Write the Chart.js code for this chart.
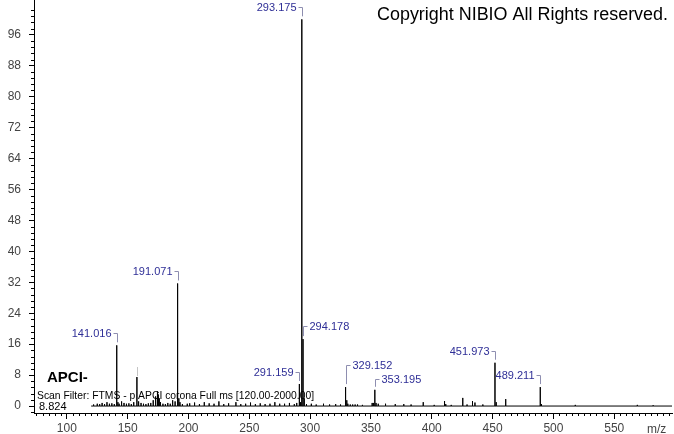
<!DOCTYPE html>
<html>
<head>
<meta charset="utf-8">
<script src="https://cdn.jsdelivr.net/npm/chart.js@4/dist/chart.umd.min.js"></script>
<style>
html,body{margin:0;padding:0;background:#fff;}
#wrap{width:674px;height:434px;position:relative;}
</style>
</head>
<body>
<div id="wrap"><canvas id="c" width="674" height="434"></canvas></div>
<script>
// ---- data ----
const peakMz = [122.0,125.0,127.0,129.0,131.0,133.0,135.0,137.0,139.0,141.016,142.0,143.0,145.0,147.0,149.0,151.0,153.0,155.0,157.6,159.0,161.0,163.0,165.0,167.0,169.0,171.0,173.0,174.5,175.2,176.0,177.0,179.0,181.0,183.0,185.0,187.0,189.0,191.071,192.07,193.0,195.0,199.0,201.0,205.0,209.0,213.0,217.0,221.0,225.0,229.0,233.0,239.0,243.0,247.0,251.0,255.0,259.0,263.0,267.0,271.0,275.0,279.0,283.0,287.0,289.0,291.159,292.2,293.175,294.178,295.18,297.0,301.0,305.0,311.0,316.0,321.0,325.0,329.152,330.155,331.0,333.0,335.0,337.0,339.0,343.0,351.0,352.0,353.195,354.2,356.0,362.0,370.0,377.0,383.0,393.0,402.0,410.5,411.5,416.0,425.5,429.0,433.5,435.5,442.0,451.973,452.98,460.8,489.211,490.21,518.0,569.0,582.0];
const peakIntensity = [0.4,0.6,0.5,0.8,0.5,1.0,0.6,0.7,0.5,15.7,1.0,0.6,1.2,0.8,0.6,0.7,0.5,1.0,7.5,1.2,0.8,0.6,0.5,0.7,0.8,1.5,2.5,3.8,3.0,2.0,1.0,0.6,0.5,0.8,0.6,1.5,1.2,31.7,2.0,1.0,0.5,0.6,0.7,0.9,0.5,1.0,0.7,0.6,1.2,0.5,0.7,1.0,0.5,0.6,0.9,0.5,0.7,0.5,0.6,1.0,0.6,0.6,0.8,0.5,0.8,5.7,1.0,100,17.3,2.0,0.5,0.6,0.4,0.6,0.4,0.5,0.4,4.9,1.5,0.6,0.4,0.4,0.4,0.4,0.3,0.8,0.8,4.2,0.8,0.6,0.6,0.5,0.5,0.4,1.0,0.3,1.3,0.5,0.3,2.1,0.4,1.3,0.9,0.4,11.2,1.0,1.8,4.9,0.5,0.3,0.3,0.2];
const labeledMz = [141.016,157.6,191.071,291.159,293.175,294.178,329.152,353.195,451.973,489.211];
const labelTexts = ["141.016","","191.071","291.159","293.175","294.178","329.152","353.195","451.973","489.211"];
const yTickValues = [0,8,16,24,32,40,48,56,64,72,80,88,96];
const xTickValues = [100,150,200,250,300,350,400,450,500,550];
const scanStart = 120, scanEnd = 2000;

// label placement style (side of text, extra lift in px)
const labelStyle = {
  "294.178": {side:"R", lift:13},
  "329.152": {side:"R", lift:22},
  "353.195": {side:"R", lift:11}
};

// build stick spectrum from arrays
const spectrum = [{x:scanStart,y:0}];
peakMz.forEach((m,i)=>{
  spectrum.push({x:m,y:0},{x:m,y:peakIntensity[i]},{x:m,y:0});
});
spectrum.push({x:scanEnd,y:0});

function noPad(s){ s.paddingTop=0; s.paddingBottom=0; s.paddingLeft=0; s.paddingRight=0; }

const annot = {
  id:'annot',
  afterDraw(chart){
    const ctx = chart.ctx, xs = chart.scales.x, ys = chart.scales.y, ca = chart.chartArea;
    ctx.save();
    // minor ticks
    ctx.strokeStyle = '#000'; ctx.lineWidth = 1;
    ctx.beginPath();
    for(let v=75; v<=xs.max; v+=5){
      if(v%50===0) continue;
      const px = Math.round(xs.getPixelForValue(v))+0.5;
      ctx.moveTo(px, ca.bottom); ctx.lineTo(px, ca.bottom+3);
    }
    for(let k=-1; k<=65; k++){
      const v = k*1.6;
      if(v>ys.max) break;
      if(k%5===0) continue;
      const py = Math.round(ys.getPixelForValue(v))+0.5;
      ctx.moveTo(ca.left-3, py); ctx.lineTo(ca.left, py);
    }
    ctx.stroke();

    // peak labels
    ctx.font = '11px "Liberation Sans", Arial, sans-serif';
    ctx.textBaseline = 'middle';
    labeledMz.forEach((m,i)=>{
      const idx = peakMz.indexOf(m);
      const h = peakIntensity[idx];
      const px = Math.round(xs.getPixelForValue(m))+0.5;
      const top = ys.getPixelForValue(h);
      const txt = labelTexts[i];
      const st = labelStyle[txt] || {side:"L", lift:12};
      const ty = Math.round(top - st.lift)+0.5;
      if(txt===""){
        ctx.strokeStyle = '#c4c4c4';
        ctx.beginPath(); ctx.moveTo(px, top-10); ctx.lineTo(px, top-1); ctx.stroke();
        return;
      }
      ctx.strokeStyle = '#8e8eb0';
      ctx.beginPath();
      if(st.side==="L"){
        ctx.moveTo(px-4, ty); ctx.lineTo(px, ty); ctx.lineTo(px, top-3);
        ctx.stroke();
        ctx.fillStyle = '#2e2e96'; ctx.textAlign = 'right';
        ctx.fillText(txt, px-6, ty);
      } else {
        ctx.moveTo(px+4, ty); ctx.lineTo(px, ty); ctx.lineTo(px, top-3);
        ctx.stroke();
        ctx.fillStyle = '#2e2e96'; ctx.textAlign = 'left';
        ctx.fillText(txt, px+6, ty);
      }
    });

    // texts
    ctx.fillStyle = '#000'; ctx.textAlign = 'left'; ctx.textBaseline = 'middle';
    ctx.font = '18px "Liberation Sans", Arial, sans-serif';
    ctx.fillText('Copyright NIBIO All Rights reserved.', 377, 15, 291);
    ctx.font = 'bold 15px "Liberation Sans", Arial, sans-serif';
    ctx.fillText('APCI-', 47, 378);
    ctx.font = '11px "Liberation Sans", Arial, sans-serif';
    ctx.fillText('Scan Filter: FTMS - p APCI corona Full ms [120.00-2000.00]', 37, 396, 277);
    ctx.fillText('8.824', 39, 407);
    ctx.fillStyle = '#444';
    ctx.font = '12px "Liberation Sans", Arial, sans-serif';
    ctx.fillText('m/z', 647, 430);
    ctx.restore();
  }
};

new Chart(document.getElementById('c'), {
  type:'line',
  data:{datasets:[{data:spectrum, borderColor:'#000', borderWidth:1, pointRadius:0, tension:0, fill:false}]},
  options:{
    responsive:false, animation:false, devicePixelRatio:1,
    layout:{padding:{top:0,right:2,left:0,bottom:0}},
    plugins:{legend:{display:false}, tooltip:{enabled:false}},
    scales:{
      x:{type:'linear', min:73, max:597.5,
        afterFit(s){s.height=21; noPad(s);},
        afterBuildTicks(s){s.ticks = xTickValues.map(v=>({value:v}));},
        border:{display:true,color:'#000',width:1},
        grid:{drawOnChartArea:false, tickLength:6, color:'#000'},
        ticks:{color:'#444', font:{family:'"Liberation Sans", Arial, sans-serif', size:12}, padding:2, maxRotation:0, autoSkip:false}
      },
      y:{type:'linear', min:-1.8, max:105,
        afterFit(s){s.width=34; noPad(s);},
        afterBuildTicks(s){s.ticks = yTickValues.map(v=>({value:v}));},
        border:{display:true,color:'#000',width:1},
        grid:{drawOnChartArea:false, tickLength:5, color:'#000'},
        ticks:{color:'#444', font:{family:'"Liberation Sans", Arial, sans-serif', size:12}, padding:8, autoSkip:false}
      }
    }
  },
  plugins:[annot]
});
</script>
</body>
</html>
